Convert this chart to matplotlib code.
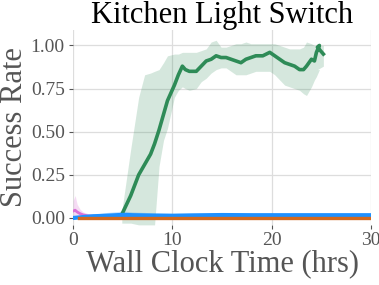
import numpy as np
import matplotlib.pyplot as plt

# green run (success rate over wall clock hours)
green_t = [4.9, 5.8, 6.6, 7.2, 7.8, 8.2, 8.65, 9.1, 9.5, 10.2, 10.6, 11.0, 11.3, 11.7, 12.4,
           12.9, 13.4, 13.9, 14.4, 14.9, 15.4, 15.9, 16.4, 16.9, 17.4, 17.9, 18.4, 19.1, 19.8,
           20.3, 20.8, 21.3, 21.8, 22.3, 22.8, 23.2, 23.5, 24.0, 24.3, 24.5, 24.8, 24.6, 25.2]
green_y = [0.02, 0.13, 0.25, 0.31, 0.37, 0.43, 0.51, 0.60, 0.68, 0.77, 0.83, 0.88, 0.86, 0.85, 0.85,
           0.88, 0.91, 0.92, 0.94, 0.93, 0.93, 0.92, 0.91, 0.90, 0.92, 0.93, 0.94, 0.94, 0.96,
           0.94, 0.92, 0.90, 0.89, 0.88, 0.86, 0.86, 0.88, 0.92, 0.91, 0.96, 1.00, 0.99, 0.95]
green_lo = [-0.03, -0.03, -0.04, -0.04, -0.04, -0.04, 0.30, 0.45, 0.52, 0.70, 0.74, 0.76, 0.75, 0.74, 0.75,
            0.79, 0.81, 0.84, 0.86, 0.87, 0.87, 0.85, 0.83, 0.83, 0.83, 0.84, 0.85, 0.85, 0.85,
            0.83, 0.80, 0.77, 0.76, 0.75, 0.74, 0.72, 0.71, 0.76, 0.80, 0.82, 0.86, 0.86, 0.88]
green_hi = [0.04, 0.40, 0.70, 0.83, 0.84, 0.85, 0.86, 0.90, 0.94, 0.95, 0.95, 0.96, 0.96, 0.96, 0.96,
            0.97, 0.98, 1.02, 1.03, 0.99, 0.99, 1.00, 1.01, 1.01, 1.02, 1.01, 1.01, 1.01, 1.01,
            1.01, 1.00, 0.99, 0.98, 0.98, 0.98, 0.99, 1.02, 1.01, 1.00, 1.00, 1.00, 1.00, 1.00]

# blue run
blue_t = [0.0, 1.0, 2.0, 3.0, 4.0, 5.0, 6.0, 8.0, 10.0, 12.0, 15.0, 18.0, 21.0, 24.0, 27.0, 29.8]
blue_y = [0.0, 0.005, 0.01, 0.012, 0.015, 0.018, 0.016, 0.014, 0.013, 0.015, 0.017, 0.016, 0.016, 0.016, 0.016, 0.016]
blue_lo = [0.0, 0.0, 0.0, 0.0, 0.0, 0.0, 0.0, 0.0, 0.005, 0.008, 0.01, 0.01, 0.01, 0.01, 0.01, 0.01]
blue_hi = [0.0, 0.01, 0.02, 0.03, 0.035, 0.04, 0.035, 0.03, 0.025, 0.025, 0.026, 0.025, 0.025, 0.025, 0.025, 0.025]

# orange run
orange_t = [0.6, 10.0, 20.0, 29.8]
orange_y = [0.0, 0.0, 0.0, 0.0]

# pink run
pink_t = [0.0, 0.2, 0.4, 0.7, 1.0, 1.5, 2.0, 2.5, 3.0]
pink_y = [0.04, 0.045, 0.035, 0.025, 0.018, 0.012, 0.01, 0.008, 0.006]
pink_lo = [0.0, 0.0, 0.0, 0.0, 0.0, 0.0, 0.0, 0.0, 0.0]
pink_hi = [0.10, 0.13, 0.08, 0.05, 0.035, 0.025, 0.02, 0.015, 0.012]

plt.rcParams['font.family'] = ['Liberation Serif', 'DejaVu Serif']

fig = plt.figure(figsize=(3.79, 2.85), dpi=100)
ax = fig.add_axes([0.193, 0.211, 0.786, 0.684])

ax.fill_between(pink_t, pink_lo, pink_hi, color='orchid', alpha=0.25, lw=0)
ax.plot(pink_t, pink_y, color='orchid', lw=2)
ax.fill_between(green_t, green_lo, green_hi, color='seagreen', alpha=0.2, lw=0)
ax.fill_between(blue_t, blue_lo, blue_hi, color='dodgerblue', alpha=0.25, lw=0)
ax.plot(green_t, green_y, color='seagreen', lw=2.6)
ax.plot(blue_t, blue_y, color='dodgerblue', lw=3)
ax.plot(orange_t, orange_y, color='chocolate', lw=2.4)

ax.set_xlim(0, 30)
ax.set_ylim(-0.04, 1.09)
ax.set_xticks([0, 10, 20, 30])
ax.set_yticks([0, 0.25, 0.5, 0.75, 1.0])
ax.set_yticklabels(['0.00', '0.25', '0.50', '0.75', '1.00'])

ax.grid(True, color='#dddddd', lw=0.9)
ax.set_axisbelow(True)
for s in ax.spines.values():
    s.set_visible(False)
ax.tick_params(colors='#555555', labelsize=14, length=3, width=0.8, pad=3)
ax.tick_params(axis='x', pad=2)

ax.set_title('Kitchen Light Switch', fontsize=22, color='black', pad=3)
ax.set_xlabel('Wall Clock Time (hrs)', fontsize=22, color='#555555', labelpad=0)
ax.set_ylabel('Success Rate', fontsize=22, color='#555555', labelpad=1)

fig.savefig('out.png', dpi=100)
